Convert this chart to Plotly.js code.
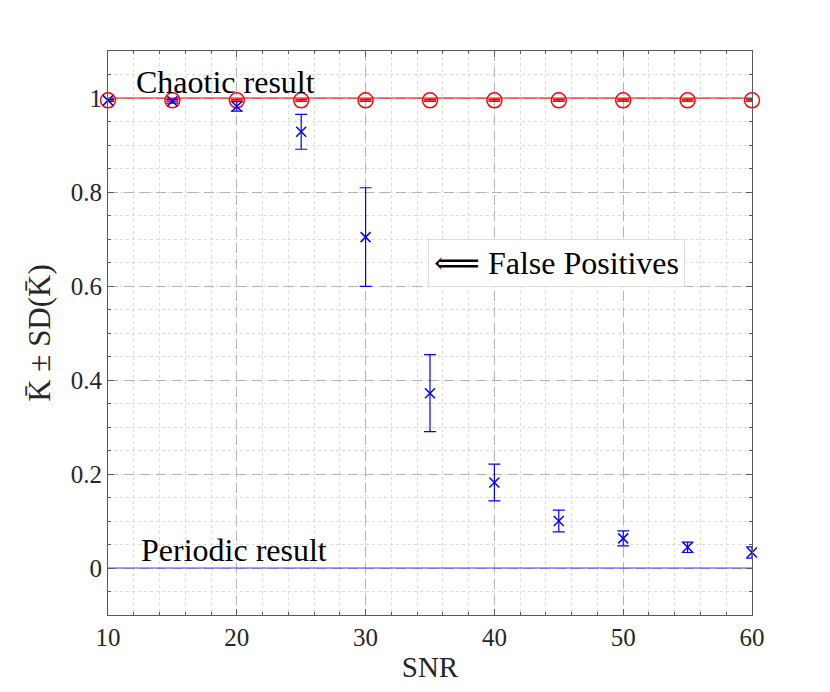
<!DOCTYPE html>
<html>
<head>
<meta charset="utf-8">
<script src="https://cdn.plot.ly/plotly-3.0.1.min.js"></script>
<style>html,body{margin:0;padding:0;background:#fff;}#chart{width:830px;height:692px;}</style>
</head>
<body>
<div id="chart"></div>
<script>
const snr = [10, 15, 20, 25, 30, 35, 40, 45, 50, 55, 60];
const noisyMean = [0.995, 0.993, 0.982, 0.928, 0.704, 0.372, 0.182, 0.100, 0.063, 0.044, 0.033];
const noisySD   = [0.002, 0.004, 0.010, 0.037, 0.105, 0.082, 0.039, 0.023, 0.016, 0.011, 0.012];
const cleanMean = [0.995, 0.995, 0.995, 0.995, 0.995, 0.995, 0.995, 0.995, 0.995, 0.995, 0.995];
const cleanSD   = [0.002, 0.002, 0.002, 0.002, 0.002, 0.002, 0.002, 0.002, 0.002, 0.002, 0.002];
const refX = [10, 60];
const chaoticLevel = [1, 1];
const periodicLevel = [0, 0];
const xTicks = [10, 20, 30, 40, 50, 60];
const yTicks = [0, 0.2, 0.4, 0.6, 0.8, 1];

const serif = "'Liberation Serif', 'DejaVu Serif', 'Times New Roman', serif";

const traces = [
  {x: refX, y: chaoticLevel, mode: 'lines', line: {color: '#ff0000', width: 1.2}, hoverinfo: 'skip', cliponaxis: false},
  {x: refX, y: periodicLevel, mode: 'lines', line: {color: '#4040ff', width: 1.2}, hoverinfo: 'skip', cliponaxis: false},
  {x: snr, y: cleanMean, mode: 'markers', cliponaxis: false,
   marker: {symbol: 'circle-open', size: 15, color: '#ff0000', line: {width: 1.5, color: '#ff0000'}},
   error_y: {type: 'data', array: cleanSD, visible: true, color: '#ff0000', thickness: 1.5, width: 6}},
  {x: snr, y: noisyMean, mode: 'markers', cliponaxis: false,
   marker: {symbol: 'x-thin', size: 10, color: '#0000ff', line: {width: 1.5, color: '#0000ff'}},
   error_y: {type: 'data', array: noisySD, visible: true, color: '#0000ff', thickness: 1.2, width: 6}}
];

const layout = {
  width: 830, height: 692,
  margin: {l: 108, r: 78, t: 51, b: 77},
  paper_bgcolor: '#ffffff', plot_bgcolor: '#ffffff',
  showlegend: false,
  font: {family: serif, color: '#262626', size: 18},
  xaxis: {
    range: [10, 60], tickvals: xTicks, ticktext: xTicks.map(String),
    showline: true, mirror: 'ticks', linecolor: '#5a5a5a', linewidth: 1,
    ticks: 'inside', ticklen: 6, tickcolor: '#5a5a5a',
    showgrid: true, gridcolor: '#b3b3b3', griddash: '10px,6px', gridwidth: 1,
    minor: {dtick: 2, showgrid: true, gridcolor: '#dcdcdc', griddash: 'dot', gridwidth: 1, ticks: 'inside', ticklen: 3, tickcolor: '#5a5a5a'},
    zeroline: false,
    tickfont: {family: serif, size: 25, color: '#262626'},
    title: {text: 'SNR', font: {family: serif, size: 29, color: '#262626'}, standoff: 6}
  },
  yaxis: {
    range: [-0.1, 1.1], tickvals: yTicks, ticktext: ['0', '0.2', '0.4', '0.6', '0.8', '1'],
    showline: true, mirror: 'ticks', linecolor: '#5a5a5a', linewidth: 1,
    ticks: 'inside', ticklen: 6, tickcolor: '#5a5a5a',
    showgrid: true, gridcolor: '#b3b3b3', griddash: '10px,6px', gridwidth: 1,
    minor: {dtick: 0.05, showgrid: true, gridcolor: '#dcdcdc', griddash: 'dot', gridwidth: 1, ticks: 'inside', ticklen: 3, tickcolor: '#5a5a5a'},
    zeroline: false,
    tickfont: {family: serif, size: 25, color: '#262626'},
    title: {text: 'K\u0304 \u00b1 SD(K\u0304)', font: {family: serif, size: 31, color: '#262626'}, standoff: 10}
  },
  annotations: [
    {x: 12.0, y: 1.0, xref: 'x', yref: 'y', xanchor: 'left', yanchor: 'bottom', yshift: -4,
     text: 'Chaotic result', showarrow: false, font: {family: serif, size: 32, color: '#000000'}},
    {x: 12.4, y: 0.0, xref: 'x', yref: 'y', xanchor: 'left', yanchor: 'bottom', yshift: -2,
     text: 'Periodic result', showarrow: false, font: {family: serif, size: 32, color: '#000000'}},
    {x: 34.85, y: 0.65, xref: 'x', yref: 'y', xanchor: 'left', yanchor: 'middle',
     text: '\u27f8 False Positives', showarrow: false, font: {family: serif, size: 32, color: '#000000'},
     bgcolor: '#ffffff', bordercolor: '#dddddd', borderwidth: 1, borderpad: 5}
  ]
};

Plotly.newPlot('chart', traces, layout, {displayModeBar: false, staticPlot: true});
</script>
</body>
</html>
